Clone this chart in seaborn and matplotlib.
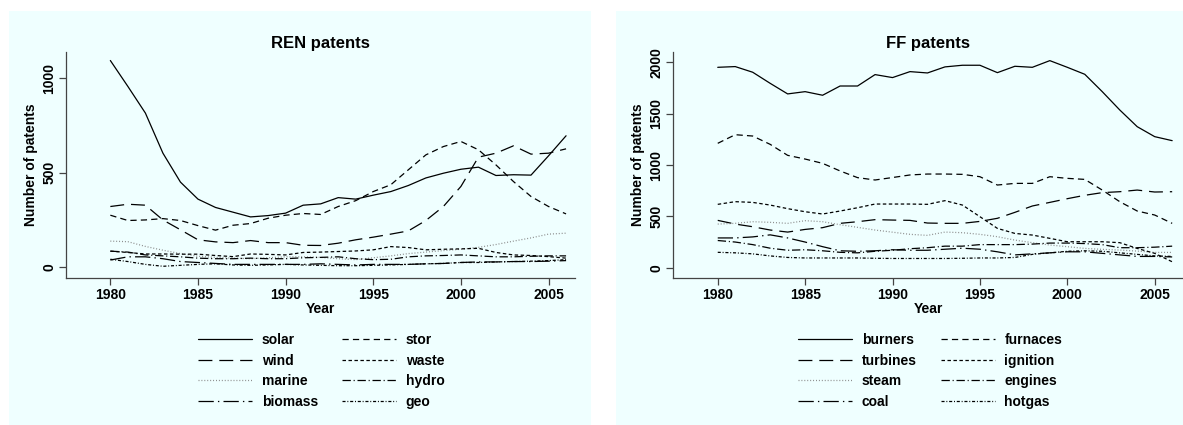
import numpy as np
import pandas as pd
import matplotlib
matplotlib.use("Agg")
import matplotlib.pyplot as plt
import seaborn as sns
from matplotlib.patches import Rectangle

# data
years = np.arange(1980, 2007)

# renewable patents
solar = [1093, 956, 815, 603, 450, 360, 316, 291, 266, 273, 286, 328, 335, 368, 360, 381, 400, 432, 472, 497, 518, 529, 485, 489, 487, 589, 695]
stor = [275, 247, 250, 257, 247, 220, 196, 222, 231, 259, 275, 284, 279, 321, 352, 400, 436, 515, 594, 638, 665, 621, 541, 453, 374, 321, 282]
wind = [321, 333, 328, 250, 198, 145, 134, 130, 141, 130, 130, 116, 115, 127, 145, 159, 175, 192, 247, 321, 427, 582, 603, 642, 598, 603, 626]
waste = [85, 78, 70, 70, 69, 69, 62, 56, 70, 68, 65, 78, 80, 83, 86, 92, 109, 104, 92, 95, 97, 100, 78, 65, 62, 56, 48]
marine = [138, 135, 110, 90, 72, 58, 52, 48, 45, 50, 55, 55, 52, 45, 40, 50, 60, 72, 80, 88, 95, 105, 120, 138, 155, 175, 180]
hydro = [85, 80, 65, 60, 55, 48, 45, 45, 48, 45, 45, 50, 52, 55, 45, 40, 42, 55, 60, 62, 65, 60, 55, 55, 58, 60, 60]
biomass = [38, 55, 55, 45, 30, 25, 20, 15, 15, 15, 15, 15, 18, 15, 12, 15, 15, 15, 18, 20, 25, 28, 28, 30, 30, 32, 35]
geo = [42, 30, 15, 5, 10, 15, 18, 12, 10, 12, 15, 12, 10, 8, 8, 10, 12, 15, 18, 20, 25, 25, 28, 30, 32, 35, 40]

# fossil fuel patents
burners = [1951, 1958, 1903, 1795, 1692, 1714, 1679, 1769, 1769, 1880, 1851, 1909, 1896, 1955, 1971, 1971, 1899, 1961, 1951, 2016, 1951, 1883, 1714, 1536, 1373, 1276, 1237]
furnaces = [1211, 1295, 1282, 1201, 1094, 1058, 1016, 942, 877, 854, 878, 903, 912, 912, 909, 886, 805, 821, 821, 886, 870, 860, 756, 643, 552, 513, 432]
turbines = [461, 425, 399, 367, 347, 373, 390, 432, 448, 468, 464, 461, 435, 432, 432, 451, 481, 539, 601, 636, 672, 705, 731, 740, 756, 737, 740]
ignition = [617, 643, 636, 610, 575, 545, 523, 552, 584, 620, 620, 620, 617, 653, 610, 497, 383, 334, 318, 286, 253, 253, 253, 244, 188, 140, 58]
steam = [425, 432, 448, 442, 432, 458, 448, 419, 393, 367, 346, 325, 315, 347, 341, 325, 302, 269, 244, 221, 205, 188, 179, 172, 162, 149, 149]
engines = [265, 250, 225, 190, 170, 175, 165, 150, 145, 160, 170, 185, 195, 210, 210, 225, 225, 225, 230, 240, 240, 235, 225, 195, 195, 200, 210]
coal = [290, 290, 300, 320, 290, 250, 205, 165, 160, 165, 175, 170, 170, 180, 190, 180, 155, 125, 135, 145, 155, 155, 140, 125, 110, 110, 105]
hotgas = [150, 145, 135, 115, 100, 95, 95, 95, 95, 92, 90, 90, 90, 90, 92, 95, 95, 100, 130, 145, 160, 165, 160, 145, 130, 115, 110]

ren_names = ["solar", "wind", "marine", "biomass", "stor", "waste", "hydro", "geo"]
ren_vals = [solar, wind, marine, biomass, stor, waste, hydro, geo]
ff_names = ["burners", "turbines", "steam", "coal", "furnaces", "ignition", "engines", "hotgas"]
ff_vals = [burners, turbines, steam, coal, furnaces, ignition, engines, hotgas]

# line patterns in legend order (col 1 then col 2)
styles = [
    ("-", "black"),
    ((0, (10, 5)), "black"),
    ((0, (0.7, 1.4)), "#8a8a8a"),
    ((0, (11, 3, 1, 3)), "black"),
    ((0, (4.5, 3)), "black"),
    ((0, (2.5, 1.8)), "black"),
    ((0, (6, 2, 0.8, 2)), "black"),
    ((0, (2.2, 1.3, 0.7, 1.3)), "black"),
]

sns.set_style("white")
plt.rcParams["font.family"] = ["Liberation Sans", "DejaVu Sans"]
plt.rcParams["font.weight"] = "bold"
plt.rcParams["lines.scale_dashes"] = False
plt.rcParams["text.color"] = "black"
plt.rcParams["axes.labelcolor"] = "black"
plt.rcParams["xtick.color"] = "black"
plt.rcParams["ytick.color"] = "black"

W, H = 1183, 425
bg = "#efffff"
fig = plt.figure(figsize=(W / 100, H / 100), dpi=100)
fig.patch.set_facecolor("white")


def px(x0, y0, x1, y1):
    # pixel box -> figure fraction rect
    return [x0 / W, 1 - y1 / H, (x1 - x0) / W, (y1 - y0) / H]


panels = [
    dict(bg=(9, 11, 591, 425), ax=(66, 52, 575, 278), title="REN patents",
         names=ren_names, vals=ren_vals, ylim=(-57, 1138), yt=[0, 500, 1000],
         xlim=(1977.47, 2006.51), leg=(198, 333)),
    dict(bg=(616, 11, 1183, 425), ax=(673, 52, 1183, 278), title="FF patents",
         names=ff_names, vals=ff_vals, ylim=(-100, 2100), yt=[0, 500, 1000, 1500, 2000],
         xlim=(1977.44, 2006.62), leg=(798, 333)),
]

for p in panels:
    x0, y0, x1, y1 = p["bg"]
    fig.patches.append(Rectangle((x0 / W, 1 - y1 / H), (x1 - x0) / W, (y1 - y0) / H,
                                 transform=fig.transFigure, facecolor=bg, edgecolor="none", zorder=-10))
    ax = fig.add_axes(px(*p["ax"]))
    ax.set_facecolor("none")
    for name, vals, (ls, col) in zip(p["names"], p["vals"], styles):
        sns.lineplot(x=years, y=vals, ax=ax, color=col, linestyle=ls, linewidth=0.9, label=name)
    ax.set_xlim(*p["xlim"])
    ax.set_ylim(*p["ylim"])
    ax.set_xticks([1980, 1985, 1990, 1995, 2000, 2005])
    ax.set_yticks(p["yt"])
    ax.tick_params(axis="both", direction="out", length=5, width=0.9, color="#444444",
                   labelsize=10, pad=2, left=True, bottom=True)
    for lab in ax.get_yticklabels():
        lab.set_rotation(90)
        lab.set_va("center")
    for s in ["top", "right"]:
        ax.spines[s].set_visible(False)
    for s in ["left", "bottom"]:
        ax.spines[s].set_color("#444444")
        ax.spines[s].set_linewidth(0.9)
    ax.set_xlabel("Year", fontsize=10, fontweight="bold", labelpad=0)
    ax.set_ylabel("Number of patents", fontsize=10, fontweight="bold", labelpad=3)
    # title centred over the plot region, as Stata does
    ax.set_title(p["title"], fontsize=12, fontweight="bold", pad=3)
    h, l = ax.get_legend_handles_labels()
    lx, ly = p["leg"]
    ax.legend(h, l, ncol=2, loc="upper left", bbox_to_anchor=(lx / W, 1 - ly / H),
              bbox_transform=fig.transFigure, frameon=False, fontsize=10,
              handlelength=3.9, handletextpad=0.7, columnspacing=1.7,
              labelspacing=0.48, borderpad=0, borderaxespad=0)

fig.savefig("out.png", dpi=100, facecolor="white")
